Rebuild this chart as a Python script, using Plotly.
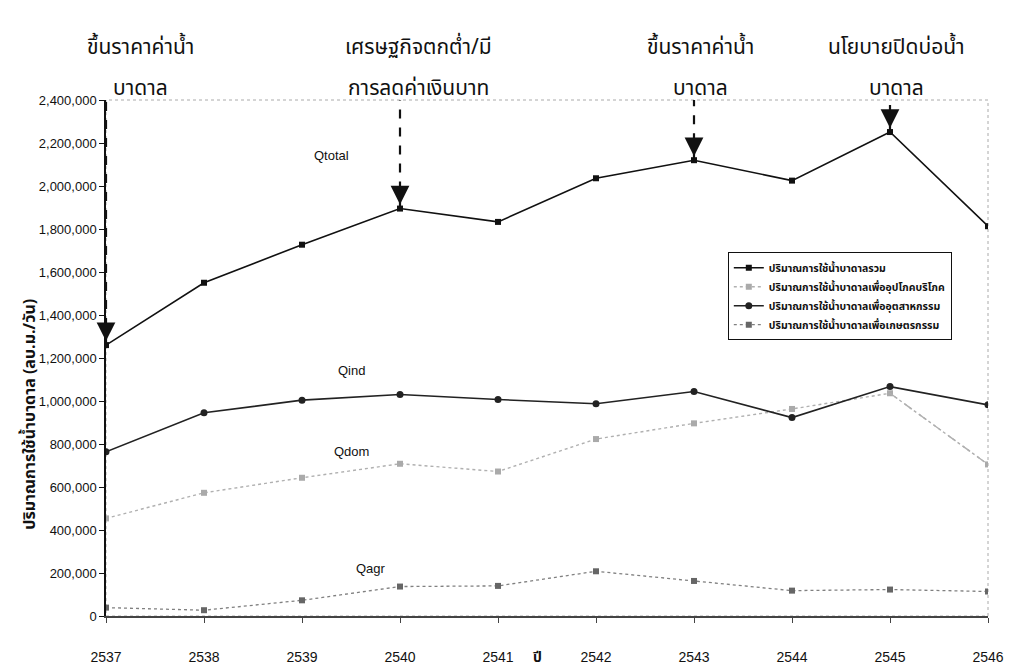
import plotly.graph_objects as go

years = [2537, 2538, 2539, 2540, 2541, 2542, 2543, 2544, 2545, 2546]
q_total = [1260000, 1550000, 1727000, 1895000, 1833000, 2036000, 2120000, 2025000, 2251000, 1813000]
q_dom = [454000, 573000, 643000, 708000, 672000, 823000, 896000, 963000, 1036000, 705000]
q_ind = [764000, 945000, 1004000, 1030000, 1007000, 987000, 1044000, 923000, 1067000, 982000]
q_agr = [39000, 27000, 73000, 137000, 140000, 208000, 163000, 118000, 123000, 114000]

legend_names = [
    "ปริมาณการใช้น้ำบาดาลรวม",
    "ปริมาณการใช้น้ำบาดาลเพื่ออุปโภคบริโภค",
    "ปริมาณการใช้น้ำบาดาลเพื่ออุตสาหกรรม",
    "ปริมาณการใช้น้ำบาดาลเพื่อเกษตรกรรม",
]
series_labels = ["Qtotal", "Qind", "Qdom", "Qagr"]
label_pos_x = [2539.3, 2539.5, 2539.5, 2539.7]
label_pos_y = [2144000, 1140000, 763000, 223000]

event_years = [2537, 2540, 2543, 2545]
event_line1 = ["ขึ้นราคาค่าน้ำ", "เศรษฐกิจตกต่ำ/มี", "ขึ้นราคาค่าน้ำ", "นโยบายปิดบ่อน้ำ"]
event_line2 = ["บาดาล", "การลดค่าเงินบาท", "บาดาล", "บาดาล"]
event_xshift = [34, 18, 6, 6]

y_ticks = list(range(0, 2400001, 200000))
THAI = "Noto Sans Thai, Loma, Garuda, Noto Sans, sans-serif"
ARIAL = "Liberation Sans, Arial, sans-serif"
NARROW = "Liberation Sans Narrow, Arial Narrow, Liberation Sans, sans-serif"

fig = go.Figure()
fig.add_trace(go.Scatter(x=years, y=q_total, name="<b>" + legend_names[0] + "</b>", mode="lines+markers",
                         line=dict(color="#111111", width=1.6),
                         marker=dict(symbol="square", size=6, color="#111111")))
fig.add_trace(go.Scatter(x=years, y=q_dom, name="<b>" + legend_names[1] + "</b>", mode="lines+markers",
                         line=dict(color="#b0b0b0", width=1.4, dash="dot"),
                         marker=dict(symbol="square", size=6, color="#aaaaaa")))
fig.add_trace(go.Scatter(x=years[-2:], y=q_dom[-2:], showlegend=False, mode="lines",
                         line=dict(color="#b0b0b0", width=1.4, dash="dash"), hoverinfo="skip"))
fig.add_trace(go.Scatter(x=years, y=q_ind, name="<b>" + legend_names[2] + "</b>", mode="lines+markers",
                         line=dict(color="#222222", width=1.6),
                         marker=dict(symbol="circle", size=7, color="#222222")))
fig.add_trace(go.Scatter(x=years, y=q_agr, name="<b>" + legend_names[3] + "</b>", mode="lines+markers",
                         line=dict(color="#808080", width=1.3, dash="dot"),
                         marker=dict(symbol="square", size=6, color="#666666")))

# event arrows: dashed shaft + arrow head, two-line captions above the plot
total_by_year = dict(zip(years, q_total))
for ey, t1, t2, xs in zip(event_years, event_line1, event_line2, event_xshift):
    yv = total_by_year[ey]
    fig.add_shape(type="line", xref="x", yref="y", x0=ey, x1=ey, y0=yv, y1=2400000,
                  line=dict(color="#111111", width=2.2, dash="dash"))
    fig.add_annotation(x=ey, y=yv, xref="x", yref="y", ax=0, ay=-22, text="",
                       showarrow=True, arrowhead=2, arrowsize=1.7, arrowwidth=2.2,
                       arrowcolor="#111111", standoff=4)
    fig.add_annotation(x=ey, y=1.0, xref="x", yref="paper", yanchor="middle", text=t1,
                       showarrow=False, font=dict(family=THAI, size=21, color="#111111"),
                       yshift=53, xshift=xs)
    fig.add_annotation(x=ey, y=1.0, xref="x", yref="paper", yanchor="middle", text=t2,
                       showarrow=False, font=dict(family=THAI, size=21, color="#111111"),
                       yshift=12, xshift=xs)

for lab, lx, ly in zip(series_labels, label_pos_x, label_pos_y):
    fig.add_annotation(x=lx, y=ly, xref="x", yref="y", text=lab, showarrow=False,
                       font=dict(family=ARIAL, size=13, color="#111111"))

# dotted plot frame (top / right)
fig.add_shape(type="rect", xref="paper", yref="paper", x0=0, x1=1, y0=0, y1=1,
              line=dict(color="#aaaaaa", width=1, dash="dot"), layer="below")

# axis titles
fig.add_annotation(x=2541.4, y=0, xref="x", yref="paper", text="<b>ปี</b>", showarrow=False,
                   yanchor="middle", yshift=-41, font=dict(family=THAI, size=14, color="#111111"))
fig.add_annotation(x=0, y=0.39, xref="paper", yref="paper", xanchor="center", yanchor="middle",
                   xshift=-76, textangle=-90, showarrow=False,
                   text="<b>ปริมาณการใช้น้ำบาดาล (ลบ.ม./วัน)</b>",
                   font=dict(family=THAI, size=16, color="#111111"))

fig.update_layout(
    width=1010, height=668,
    margin=dict(l=106, r=22, t=100, b=52),
    paper_bgcolor="white", plot_bgcolor="white",
    font=dict(family=ARIAL, size=13, color="#111111"),
    legend=dict(x=0.705, y=0.705, xanchor="left", yanchor="top",
                bgcolor="white", bordercolor="#111111", borderwidth=1,
                font=dict(family=THAI, size=10.5, color="#111111"),
                tracegroupgap=0, itemwidth=30),
    showlegend=True,
)

fig.update_xaxes(range=[2537, 2546], tickvals=years, ticktext=[str(y) for y in years],
                 showgrid=False, zeroline=False, showline=True, linecolor="#444444", linewidth=2,
                 ticks="outside", ticklen=5, tickcolor="#444444",
                 ticklabelstandoff=22, automargin=False,
                 tickfont=dict(family=NARROW, size=14, color="#111111"))
fig.update_yaxes(range=[0, 2400000], tickvals=y_ticks,
                 ticktext=[f"{v:,}" for v in y_ticks], automargin=False,
                 showgrid=False, zeroline=False, showline=True, linecolor="#111111", linewidth=1.5,
                 ticks="outside", ticklen=5, tickcolor="#111111",
                 tickfont=dict(family=ARIAL, size=13, color="#111111"))

fig.write_html("out.html")
